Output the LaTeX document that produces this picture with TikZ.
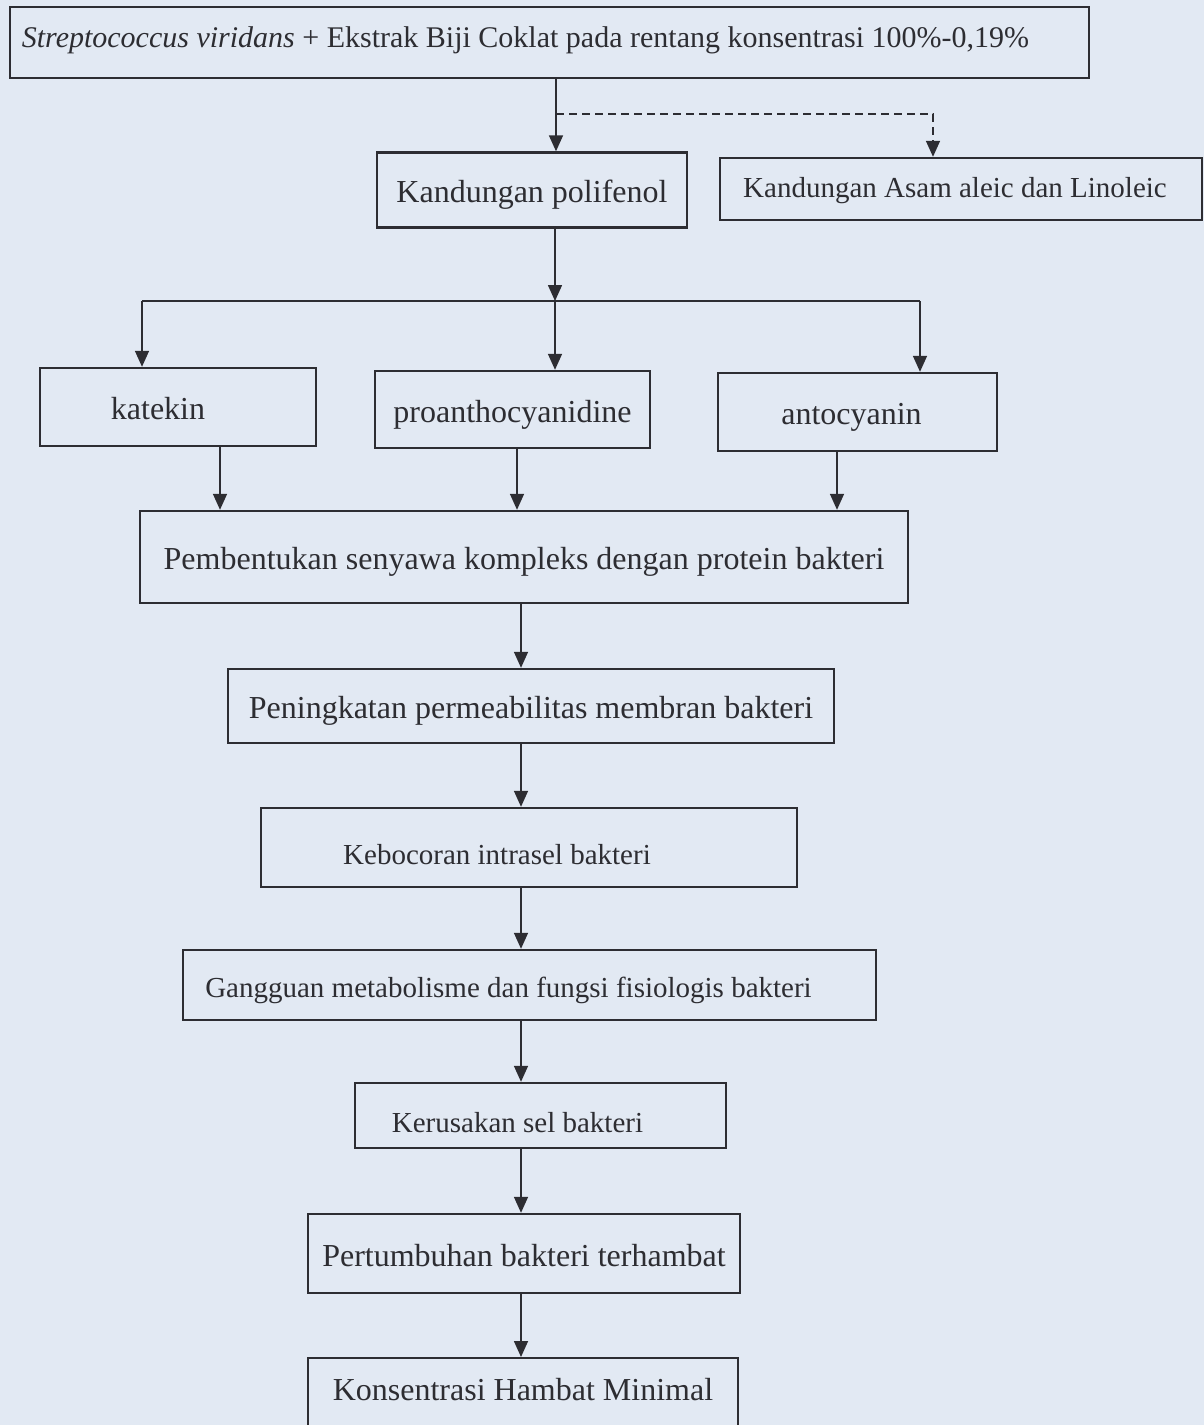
\documentclass[tikz,border=0pt]{standalone}
\usepackage{fontspec}
\setmainfont{Liberation Serif}
\usetikzlibrary{arrows.meta}

\definecolor{paper}{RGB}{226,233,243}
\definecolor{ink}{RGB}{45,45,50}
\newcommand{\boxfont}{\fontsize{16pt}{19pt}\selectfont}
\newcommand{\boxfontsm}{\fontsize{14.5pt}{17pt}\selectfont}

\begin{document}
\begin{tikzpicture}[
    x=0.5pt, y=-0.5pt,
    box/.style={rectangle, draw=ink, line width=1.2pt, text=ink, inner sep=0pt, text height=12.5pt, text depth=0pt, font=\boxfont},
    lshift/.style={execute at end node={\hspace*{#1}}},
    arrow/.style={-{Triangle[length=8pt, width=7pt]}, draw=ink, line width=0.8pt},
    link/.style={draw=ink, line width=0.8pt}
]

\fill[paper] (0,0) rectangle (1204,1425);
\clip (0,0) rectangle (1204,1425);

% Sample
\node[box, minimum width=539.5pt, minimum height=35.5pt, lshift=24pt, text height=9pt, text depth=4.5pt, font=\fontsize{15pt}{18pt}\selectfont] (sample) at (549.5,42.5) {\textit{Streptococcus viridans} + Ekstrak Biji Coklat pada rentang konsentrasi 100\%-0,19\%};

% Content
\node[box, minimum width=155pt, minimum height=37.5pt] (polifenol) at (532,190) {Kandungan polifenol};
\node[box, minimum width=241pt, minimum height=31pt, lshift=6pt, text height=8pt, font=\boxfontsm] (asam) at (961,189) {Kandungan Asam aleic dan Linoleic};

% Polyphenol groups
\node[box, minimum width=138pt, minimum height=39pt, lshift=20pt] (katekin) at (178,407) {katekin};
\node[box, minimum width=137.5pt, minimum height=38.5pt] (proanth) at (512.5,409.5) {proanthocyanidine};
\node[box, minimum width=139.5pt, minimum height=39pt, lshift=6pt] (antocyanin) at (857.5,412) {antocyanin};

% Mechanism
\node[box, minimum width=384pt, minimum height=46pt] (pembentukan) at (524,557) {Pembentukan senyawa kompleks dengan protein bakteri};
\node[box, minimum width=303pt, minimum height=37pt] (peningkatan) at (531,706) {Peningkatan permeabilitas membran bakteri};
\node[box, minimum width=268pt, minimum height=39.5pt, lshift=32pt, text height=17pt, font=\boxfontsm] (kebocoran) at (529,847.5) {Kebocoran intrasel bakteri};
\node[box, minimum width=346.5pt, minimum height=35pt, lshift=21pt, font=\boxfontsm] (gangguan) at (529.5,985) {Gangguan metabolisme dan fungsi fisiologis bakteri};
\node[box, minimum width=185.5pt, minimum height=32.5pt, lshift=23pt, text height=17pt, font=\boxfontsm] (kerusakan) at (540.5,1115.5) {Kerusakan sel bakteri};

% Result
\node[box, minimum width=216pt, minimum height=39.5pt] (pertumbuhan) at (524,1253.5) {Pertumbuhan bakteri terhambat};
\node[box, minimum width=215pt, anchor=north, inner ysep=10pt, text height=11pt, text depth=40pt] (konsentrasi) at (523,1357) {Konsentrasi Hambat Minimal};

% Branch points
\coordinate (split) at (556,114);
\coordinate (dashend) at (933,114);
\coordinate (fork) at (555,301);
\coordinate (forkL) at (142,301);
\coordinate (forkR) at (920,301);
\coordinate (katx) at (220,0);
\coordinate (prox) at (517,0);
\coordinate (antx) at (837,0);
\coordinate (spine) at (521,0);

% Arrows
\draw[arrow] (sample.south -| split) -- (polifenol.north -| split);
\draw[arrow, dash pattern=on 4pt off 2.5pt] (split) -- (dashend) -- (asam.north -| dashend);
\draw[arrow] (polifenol.south -| fork) -- (fork);
\draw[link] (forkL) -- (forkR);
\draw[arrow] (forkL) -- (katekin.north -| forkL);
\draw[arrow] (fork) -- (proanth.north -| fork);
\draw[arrow] (forkR) -- (antocyanin.north -| forkR);
\draw[arrow] (katekin.south -| katx) -- (pembentukan.north -| katx);
\draw[arrow] (proanth.south -| prox) -- (pembentukan.north -| prox);
\draw[arrow] (antocyanin.south -| antx) -- (pembentukan.north -| antx);
\draw[arrow] (pembentukan.south -| spine) -- (peningkatan.north -| spine);
\draw[arrow] (peningkatan.south -| spine) -- (kebocoran.north -| spine);
\draw[arrow] (kebocoran.south -| spine) -- (gangguan.north -| spine);
\draw[arrow] (gangguan.south -| spine) -- (kerusakan.north -| spine);
\draw[arrow] (kerusakan.south -| spine) -- (pertumbuhan.north -| spine);
\draw[arrow] (pertumbuhan.south -| spine) -- (konsentrasi.north -| spine);

\end{tikzpicture}
\end{document}
